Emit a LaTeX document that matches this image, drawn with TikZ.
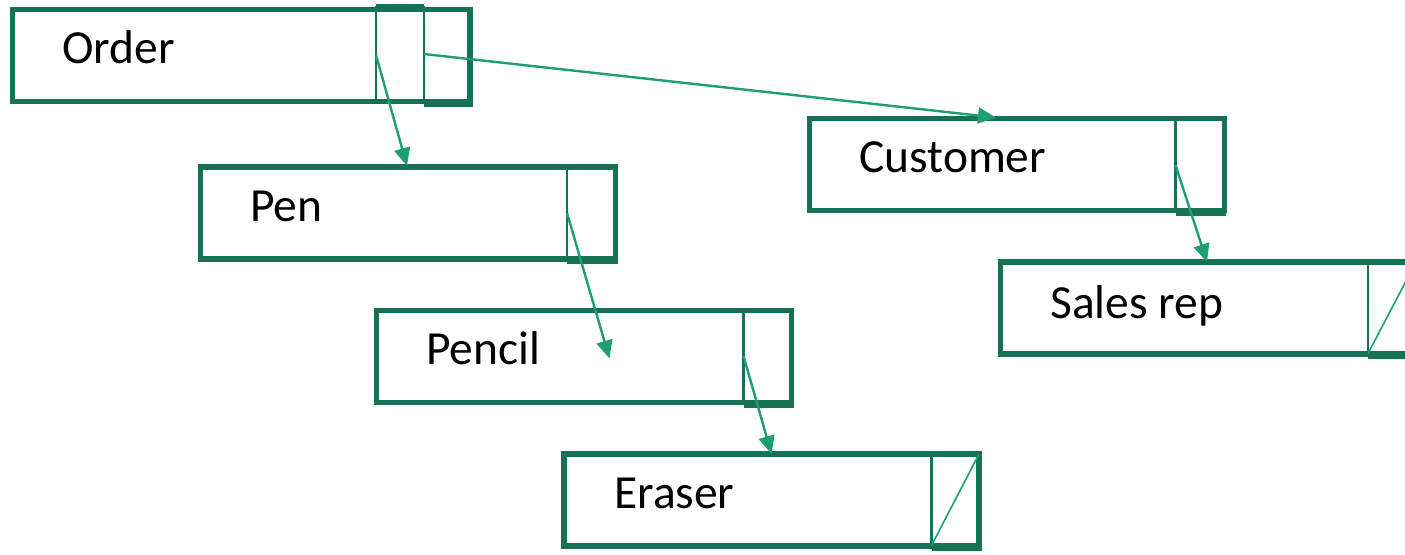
\documentclass[tikz,border=0pt]{standalone}
\usepackage{fontspec}
\setmainfont{Carlito}
\usetikzlibrary{arrows.meta}
\definecolor{boxgreen}{RGB}{23,113,86}
\definecolor{linkgreen}{RGB}{31,157,118}
\tikzset{
  record/.style={draw=boxgreen, line width=5.5pt, rectangle, inner sep=0pt,
                 minimum height=92pt, minimum width=415pt},
  label/.style={anchor=base west, inner sep=0pt, font=\fontsize{47.5}{52}\selectfont},
  cell/.style={draw=boxgreen, line width=2.4pt},
  cellbase/.style={draw=boxgreen, line width=7pt},
  link/.style={draw=linkgreen, line width=2.4pt, -{Triangle[length=18pt,width=16pt]}},
  nil/.style={draw=linkgreen, line width=1.6pt}
}
\begin{document}
\begin{tikzpicture}[x=1pt,y=-1pt]
\useasboundingbox[fill=white] (0,0) rectangle (1405,554);
\clip (0,0) rectangle (1405,554);

% record boxes
\node[record, minimum width=457.5pt] (order)    at (241.25,55.5) {};
\node[record] (pen)      at (407.75,212.75) {};
\node[record] (pencil)   at (584,356.5) {};
\node[record] (eraser)   at (771.5,499.75) {};
\node[record] (customer) at (1016.75,164.5) {};
\node[record] (salesrep) at (1208,307.75) {};

% pointer cells
\draw[cell] (376,5.5) -- (424,5.5);
\draw[cell] (376,5.5) -- (376,101.5);
\draw[cell] (424,5.5) -- (424,101.5);
\draw[cellbase] (424,103) -- (472.5,103);
\draw[cell] (567,166) -- (567,259);
\draw[cellbase] (567,260.5) -- (618,260.5);
\draw[cell] (743.5,310.5) -- (743.5,402.5);
\draw[cellbase] (743.5,404) -- (794,404);
\draw[cell] (931.5,454) -- (931.5,545.5);
\draw[cellbase] (931.5,547) -- (981.5,547);
\draw[cell] (1175.5,118.5) -- (1175.5,210.5);
\draw[cellbase] (1175.5,212) -- (1226,212);
\draw[cell] (1368,262) -- (1368,353.5);
\draw[cellbase] (1368,355) -- (1420,355);

% labels
\node[label] (orderlbl)    at (62,63)      {Order};
\node[label] (penlbl)      at (250,221.7)  {Pen};
\node[label] (pencillbl)   at (426,364.3)  {Pencil};
\node[label] (eraserlbl)   at (614,508.3)  {Eraser};
\node[label] (customerlbl) at (859,172.7)  {Customer};
\node[label] (salesreplbl) at (1050,318.3) {Sales rep};

% pointer ends
\coordinate (order-p1)    at (376,55);
\coordinate (order-p2)    at (424,54);
\coordinate (pen-p)       at (567,213);
\coordinate (pencil-p)    at (743.5,356);
\coordinate (customer-p)  at (1175.5,165);
\coordinate (pen-in)      at (407,166);
\coordinate (customer-in) at (996,117.5);
\coordinate (pencil-in)   at (609.5,358.5);
\coordinate (eraser-in)   at (771.5,454);
\coordinate (salesrep-in) at (1207,262);
\coordinate (eraser-n0)   at (931.5,545.5);
\coordinate (eraser-n1)   at (979,454);
\coordinate (salesrep-n0) at (1368,353.5);
\coordinate (salesrep-n1) at (1416,262);

% links
\draw[link] (order-p1) -- (pen-in);
\draw[link] (order-p2) -- (customer-in);
\draw[link] (pen-p) -- (pencil-in);
\draw[link] (pencil-p) -- (eraser-in);
\draw[link] (customer-p) -- (salesrep-in);

% empty pointers
\draw[nil] (eraser-n0) -- (eraser-n1);
\draw[nil] (salesrep-n0) -- (salesrep-n1);
\end{tikzpicture}
\end{document}
